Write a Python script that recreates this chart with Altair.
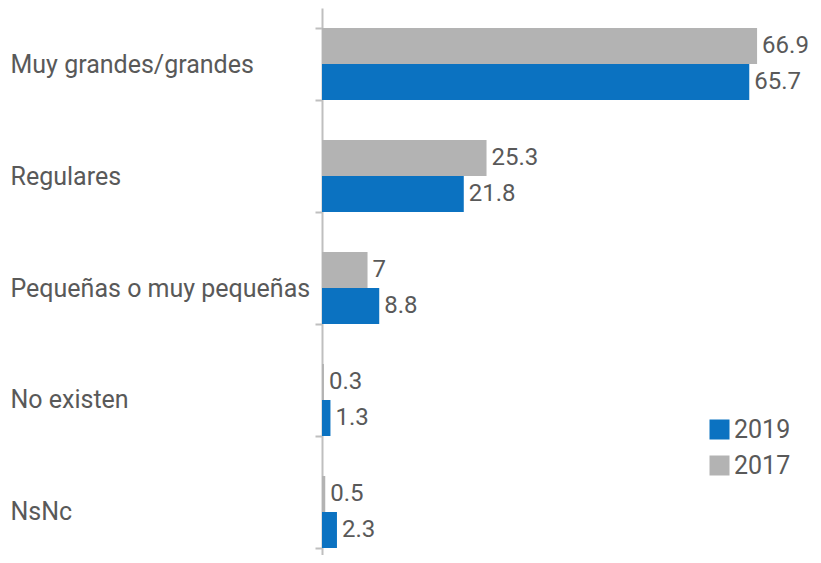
import altair as alt
import pandas as pd

categories = ["Muy grandes/grandes", "Regulares", "Pequeñas o muy pequeñas", "No existen", "NsNc"]
values_2017 = [66.9, 25.3, 7, 0.3, 0.5]
values_2019 = [65.7, 21.8, 8.8, 1.3, 2.3]
years = ["2019", "2017"]
colors = ["#0b72c1", "#b3b3b3"]

rows = []
for c, a, b in zip(categories, values_2017, values_2019):
    rows.append({"cat": c, "year": "2017", "value": a, "label": f"{a:g}"})
    rows.append({"cat": c, "year": "2019", "value": b, "label": f"{b:g}"})
df = pd.DataFrame(rows)

FONT = "Roboto"
FS = 25

y = alt.Y("cat:N", sort=categories, title=None,
          scale=alt.Scale(range=[0, 560], paddingInner=0.357, paddingOuter=0.1786),
          axis=alt.Axis(labelAlign="left", labelPadding=305, tickSize=7, tickBand="extent",
                        domainColor="#bfbfbf", domainWidth=2, tickColor="#bfbfbf", tickWidth=2,
                        labelFont=FONT, labelFontSize=FS, labelColor="#595959", grid=False,
                        labelLimit=400))
yoff = alt.YOffset("year:N", sort=["2017", "2019"], scale=alt.Scale(paddingInner=0))
x = alt.X("value:Q", scale=alt.Scale(domain=[0, 75.5]), axis=None)

bars = alt.Chart(df).mark_bar(strokeWidth=1).encode(
    y=y, yOffset=yoff, x=x,
    color=alt.Color("year:N", scale=alt.Scale(domain=years, range=colors),
                    legend=alt.Legend(title=None, orient="none", legendX=385, legendY=409,
                                      symbolType="square", symbolSize=400, symbolStrokeWidth=0,
                                      symbolOpacity=1,
                                      labelFont=FONT, labelFontSize=FS, labelColor="#595959",
                                      rowPadding=10, labelOffset=2)),
)

text = alt.Chart(df).mark_text(align="left", baseline="middle", dx=5, font=FONT,
                               fontSize=24, color="#595959").encode(
    y=alt.Y("cat:N", sort=categories), yOffset=yoff, x=x, text="label:N")

chart = alt.layer(bars, text).properties(
    width=491, height=547,
    autosize=alt.AutoSizeParams(type="none"),
    padding={"left": 314, "top": 0, "right": 0, "bottom": 0},
).configure_view(stroke=None)

chart.save("out.html", embed_options={"renderer": "svg", "actions": False})
